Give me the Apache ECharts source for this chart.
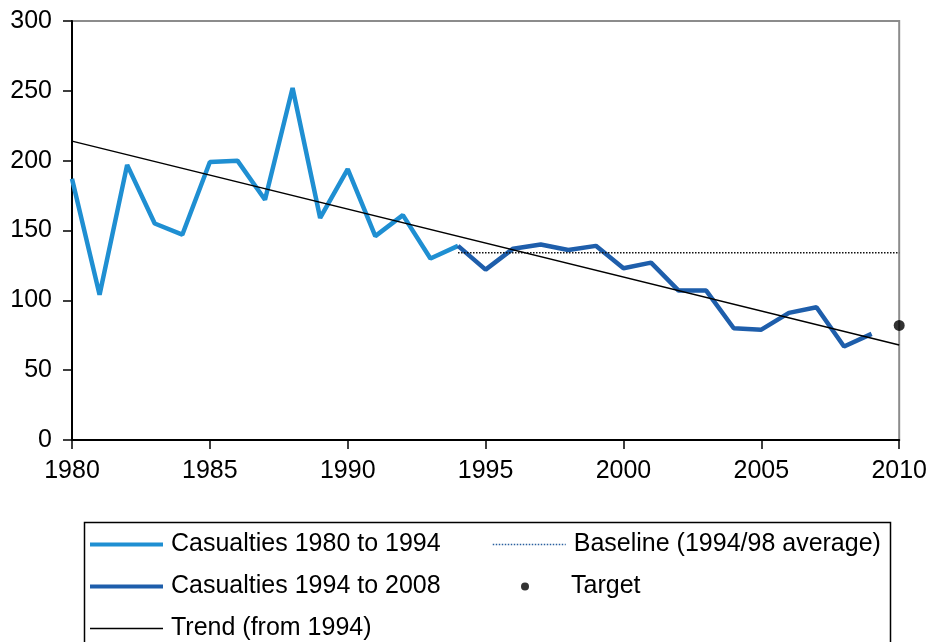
<!DOCTYPE html>
<html>
<head>
<meta charset="utf-8">
<script src="https://cdn.jsdelivr.net/npm/echarts@6/dist/echarts.min.js"></script>
<style>
  html, body { margin: 0; padding: 0; background: #ffffff; }
  #chart { width: 930px; height: 642px; }
</style>
</head>
<body>
<div id="chart"></div>
<script>
// casualties 1980 - 1994
const years80 = [1980, 1981, 1982, 1983, 1984, 1985, 1986, 1987, 1988, 1989, 1990, 1991, 1992, 1993, 1994]
const cas80 = [187, 104, 197, 155, 147, 199, 200, 172, 252, 159, 194, 146, 161, 130, 139]
// casualties 1994 - 2008 (runs to 2009)
const years94 = [1994, 1995, 1996, 1997, 1998, 1999, 2000, 2001, 2002, 2003, 2004, 2005, 2006, 2007, 2008, 2009]
const cas94 = [139, 122, 137, 140, 136, 139, 123, 127, 107, 107, 80, 79, 91, 95, 67, 76]
// baseline (1994/98 average)
const baseYears = [1994, 2010]
const baseValue = 134
// target
const targetYear = 2010
const targetValue = 82
// trend (from 1994)
const trendYears = [1980, 2010]
const trendValues = [214, 68]

const font = '"Liberation Sans", Arial, sans-serif'
const pairs = (xs, ys) => xs.map((x, i) => [x, ys[i]])

const myChart = echarts.init(document.getElementById('chart'))
const legendText = { color: '#000', fontSize: 25, fontFamily: font, lineHeight: 25, padding: [0, 0, 0, 3] }

const option = {
  animation: false,
  backgroundColor: '#ffffff',
  grid: {
    left: 72,
    right: 29,
    top: 21,
    bottom: 202,
    show: true,
    borderColor: '#8c8c8c',
    borderWidth: 2
  },
  legend: [
    {
      orient: 'vertical',
      left: 88,
      top: 532,
      height: 200,
      padding: 0,
      itemWidth: 73,
      itemHeight: 14,
      itemGap: 17,
      itemStyle: { opacity: 0 },
      textStyle: legendText,
      data: [
        { name: 'Casualties 1980 to 1994', lineStyle: { width: 4 } },
        { name: 'Casualties 1994 to 2008', lineStyle: { width: 4 } },
        { name: 'Trend (from 1994)', lineStyle: { width: 1.5 } }
      ]
    },
    {
      orient: 'vertical',
      left: 492,
      top: 532,
      padding: 0,
      itemWidth: 73,
      itemHeight: 14,
      itemStyle: { opacity: 0 },
      textStyle: legendText,
      data: [{ name: 'Baseline (1994/98 average)', lineStyle: { color: '#2a5f9e', width: 1.5 } }]
    },
    {
      orient: 'vertical',
      left: 521,
      top: 574,
      padding: 0,
      itemWidth: 8,
      itemHeight: 8,
      textStyle: { color: '#000', fontSize: 25, fontFamily: font, lineHeight: 25, padding: [0, 0, 0, 37] },
      data: [{ name: 'Target', icon: 'circle' }]
    }
  ],
  graphic: [
    {
      type: 'rect',
      left: 82,
      top: 520,
      shape: { width: 806, height: 200 },
      style: { fill: 'none', stroke: '#000', lineWidth: 1.5 },
      silent: true
    }
  ],
  xAxis: {
    type: 'value',
    min: 1980,
    max: 2010,
    interval: 5,
    splitLine: { show: false },
    axisLine: { show: true, onZero: false, lineStyle: { color: '#000', width: 2 } },
    axisTick: { show: true, length: 9, lineStyle: { color: '#000', width: 1.5 } },
    axisLabel: { color: '#000', fontSize: 25, fontFamily: font, margin: 19, formatter: v => String(v) }
  },
  yAxis: {
    type: 'value',
    min: 0,
    max: 300,
    interval: 50,
    splitLine: { show: false },
    axisLine: { show: true, lineStyle: { color: '#000', width: 2 } },
    axisTick: { show: true, length: 9, lineStyle: { color: '#000', width: 1.5 } },
    axisLabel: { color: '#000', fontSize: 25, fontFamily: font, margin: 20 }
  },
  series: [
    {
      name: 'Casualties 1980 to 1994',
      type: 'line',
      data: pairs(years80, cas80),
      symbol: 'none',
      itemStyle: { color: '#1f8fd2' },
      lineStyle: { color: '#1f8fd2', width: 4.5 },
      z: 2
    },
    {
      name: 'Casualties 1994 to 2008',
      type: 'line',
      data: pairs(years94, cas94),
      symbol: 'none',
      itemStyle: { color: '#1e5eab' },
      lineStyle: { color: '#1e5eab', width: 4.5 },
      z: 3
    },
    {
      name: 'Baseline (1994/98 average)',
      type: 'line',
      data: baseYears.map(y => [y, baseValue]),
      symbol: 'none',
      itemStyle: { color: '#1a2f55' },
      lineStyle: { color: '#111', width: 1.5, type: 'dotted' },
      z: 4
    },
    {
      name: 'Target',
      type: 'scatter',
      data: [[targetYear, targetValue]],
      symbol: 'circle',
      symbolSize: 11,
      clip: false,
      itemStyle: { color: '#000' },
      z: 6
    },
    {
      name: 'Trend (from 1994)',
      type: 'line',
      data: pairs(trendYears, trendValues),
      symbol: 'none',
      itemStyle: { color: '#000' },
      lineStyle: { color: '#000', width: 1.5 },
      z: 5
    }
  ]
}

myChart.setOption(option, true)
addEventListener('resize', () => {
  myChart.resize()
})
</script>
</body>
</html>
